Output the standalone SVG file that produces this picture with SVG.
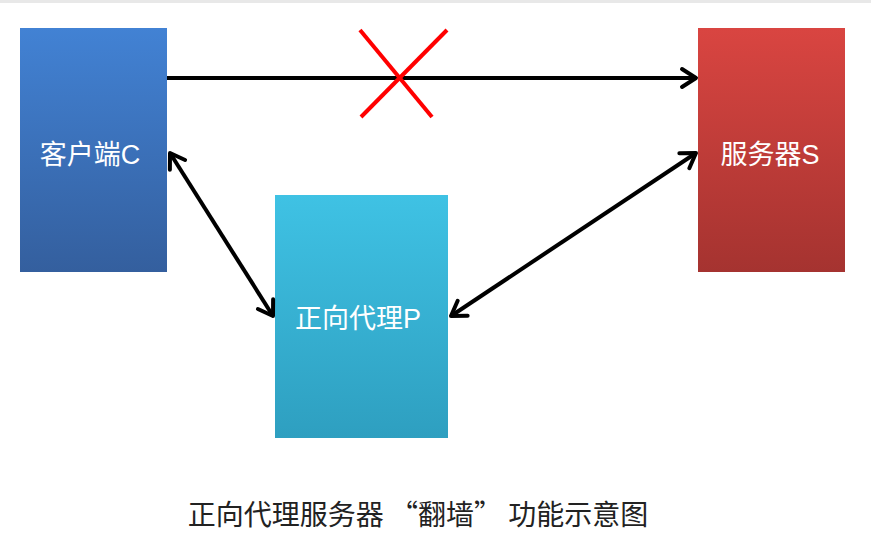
<svg xmlns="http://www.w3.org/2000/svg" width="871" height="549" viewBox="0 0 871 549">
<style>
.lbl{font-family:"Liberation Sans","Noto Sans CJK SC",sans-serif;font-size:27px;fill:#fff;text-anchor:middle}
.cap{font-family:"Noto Sans CJK SC",sans-serif;font-size:28px;fill:#222;text-anchor:middle}
.ln{stroke:#000;stroke-width:4;fill:none}
.hd{stroke:#000;stroke-width:4;fill:none;stroke-linecap:round;stroke-linejoin:round}
</style>
<defs>
<linearGradient id="gb" x1="0" y1="0" x2="0" y2="1"><stop offset="0" stop-color="#4282d4"/><stop offset="1" stop-color="#345f9e"/></linearGradient>
<linearGradient id="gr" x1="0" y1="0" x2="0" y2="1"><stop offset="0" stop-color="#d94541"/><stop offset="1" stop-color="#a53330"/></linearGradient>
<linearGradient id="gc" x1="0" y1="0" x2="0" y2="1"><stop offset="0" stop-color="#3fc2e4"/><stop offset="1" stop-color="#2e9fc0"/></linearGradient>
<path id="head" d="M-14,-9 L0,0 L-14,9"/>
</defs>
<rect x="0" y="0" width="871" height="3" fill="#e8e8e8"/>
<g id="client"><rect x="20" y="28" width="147" height="244" fill="url(#gb)"/><text class="lbl" x="90" y="164">客户端C</text></g>
<g id="server"><rect x="698" y="28" width="147" height="244" fill="url(#gr)"/><text class="lbl" x="770" y="164">服务器S</text></g>
<g id="proxy"><rect x="275" y="195" width="173" height="243" fill="url(#gc)"/><text class="lbl" x="358" y="328">正向代理P</text></g>
<g id="connectors">
<line class="ln" x1="167" y1="78" x2="696" y2="78"/>
<use href="#head" class="hd" transform="translate(696,78)"/>
<line class="ln" x1="170" y1="153" x2="273" y2="316"/>
<use href="#head" class="hd" transform="translate(170,153) rotate(237.7)"/>
<use href="#head" class="hd" transform="translate(273,316) rotate(57.7)"/>
<line class="ln" x1="696" y1="153" x2="451" y2="316"/>
<use href="#head" class="hd" transform="translate(696,153) rotate(-33.6)"/>
<use href="#head" class="hd" transform="translate(451,316) rotate(146.4)"/>
</g>
<g id="cross" stroke="#f00" stroke-width="4"><line x1="360" y1="30" x2="432" y2="117"/><line x1="447" y1="30" x2="361" y2="117"/></g>
<text class="cap" x="418" y="525">正向代理服务器 “翻墙” 功能示意图</text>
</svg>
